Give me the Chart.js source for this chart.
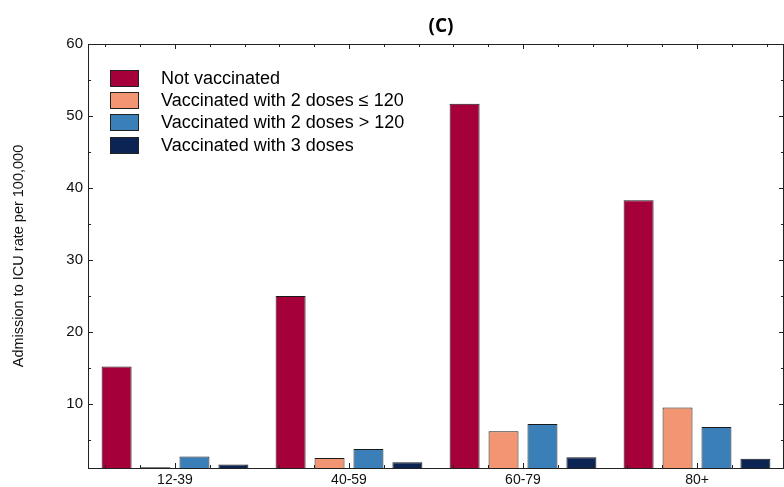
<!DOCTYPE html>
<html>
<head>
<meta charset="utf-8">
<script src="https://cdn.jsdelivr.net/npm/chart.js@4/dist/chart.umd.min.js"></script>
<style>
  html, body { margin: 0; padding: 0; background: #fff; }
  #wrap { position: relative; width: 784px; height: 487px; }
  #title { position: absolute; left: 0; width: 882px; top: 12px; text-align: center;
    font: bold 19px "Open Sans", sans-serif; color: #000; }
  #legend { position: absolute; left: 110px; top: 67px; font: 18px "Liberation Sans", Arial, sans-serif; color: #000; }
  .row { height: 22.3px; display: flex; align-items: center; }
  .box { width: 27px; height: 15px; border: 1px solid #222; margin-right: 22px; }
</style>
</head>
<body>
<div id="wrap">
  <canvas id="icuChart" width="784" height="487"></canvas>
  <div id="title">(C)</div>
  <div id="legend"></div>
</div>
<script>
let categories = ['12-39', '40-59', '60-79', '80+'];
let seriesNames = ['Not vaccinated', 'Vaccinated with 2 doses \u2264 120', 'Vaccinated with 2 doses > 120', 'Vaccinated with 3 doses'];
let notVaccinated = [15.2, 25.0, 51.7, 38.3];
let twoDosesRecent = [1.2, 2.5, 6.2, 9.5];
let twoDosesOld = [2.7, 3.75, 7.2, 6.8];
let threeDoses = [1.6, 1.9, 2.6, 2.4];
let yTicks = [10, 20, 30, 40, 50, 60];
let colors = ['#a6003a', '#f29572', '#3a7fb8', '#0b2453'];

let allSeries = [notVaccinated, twoDosesRecent, twoDosesOld, threeDoses];

// legend inside the plot
let legend = document.getElementById('legend');
for (let i = 0; i < seriesNames.length; i++) {
    let row = document.createElement('div');
    row.className = 'row';
    let box = document.createElement('div');
    box.className = 'box';
    box.style.background = colors[i];
    let label = document.createElement('span');
    label.textContent = seriesNames[i];
    row.appendChild(box);
    row.appendChild(label);
    legend.appendChild(row);
}

// frame with inward ticks on all four sides
let framePlugin = {
    id: 'frame',
    afterDraw(chart) {
        let ctx = chart.ctx;
        let a = chart.chartArea;
        let x = chart.scales.x;
        let y = chart.scales.y;
        ctx.save();
        ctx.strokeStyle = '#222';
        ctx.lineWidth = 1;
        ctx.strokeRect(a.left + 0.5, a.top + 0.5, a.right - a.left - 1, a.bottom - a.top);
        ctx.beginPath();
        for (let v = 5; v <= 60; v += 5) {
            let py = Math.round(y.getPixelForValue(v)) + 0.5;
            let len = (v % 10 == 0) ? 5 : 3;
            ctx.moveTo(a.left, py); ctx.lineTo(a.left + len, py);
            ctx.moveTo(a.right, py); ctx.lineTo(a.right - len, py);
        }
        let w = x.getPixelForValue(1) - x.getPixelForValue(0);
        for (let i = 0; i < categories.length; i++) {
            let c = x.getPixelForValue(i);
            for (let k = -2; k <= 2; k++) {
                let px = Math.round(c + k * w / 5) + 0.5;
                let len = (k == 0) ? 5 : 3;
                ctx.moveTo(px, a.top); ctx.lineTo(px, a.top + len);
                ctx.moveTo(px, a.bottom); ctx.lineTo(px, a.bottom - len);
            }
        }
        ctx.stroke();
        ctx.restore();
    }
};

let datasets = [];
for (let i = 0; i < seriesNames.length; i++) {
    datasets.push({
        label: seriesNames[i],
        data: allSeries[i],
        backgroundColor: colors[i],
        borderColor: '#1a1a1a',
        borderWidth: 1,
        categoryPercentage: 0.895,
        barPercentage: 0.77
    });
}

let icuChart = new Chart(document.getElementById('icuChart').getContext('2d'), {
    type: 'bar',
    data: {
        labels: categories,
        datasets: datasets
    },
    options: {
        responsive: false,
        animation: false,
        layout: { padding: { top: 44, right: 0, left: 0, bottom: 0 } },
        plugins: {
            legend: { display: false },
            title: { display: false },
            tooltip: { enabled: false }
        },
        scales: {
            x: {
                grid: { display: false, drawTicks: false },
                border: { display: false },
                ticks: { color: '#111', padding: 4, font: { family: 'Liberation Sans', size: 14 } },
                afterFit: (scale) => { scale.height = 19; }
            },
            y: {
                min: 1.1,
                max: 60,
                grid: { display: false, drawTicks: false },
                border: { display: false },
                afterBuildTicks: (scale) => { scale.ticks = yTicks.map(v => ({ value: v })); },
                ticks: { color: '#111', padding: 5, font: { family: 'Liberation Sans', size: 15 } },
                title: {
                    display: true,
                    text: 'Admission to ICU rate per 100,000',
                    color: '#111',
                    font: { family: 'Liberation Sans', size: 14.5 },
                    padding: { top: 10, bottom: 0 }
                },
                afterFit: (scale) => { scale.width = 88; }
            }
        }
    },
    plugins: [framePlugin]
});
</script>
</body>
</html>
